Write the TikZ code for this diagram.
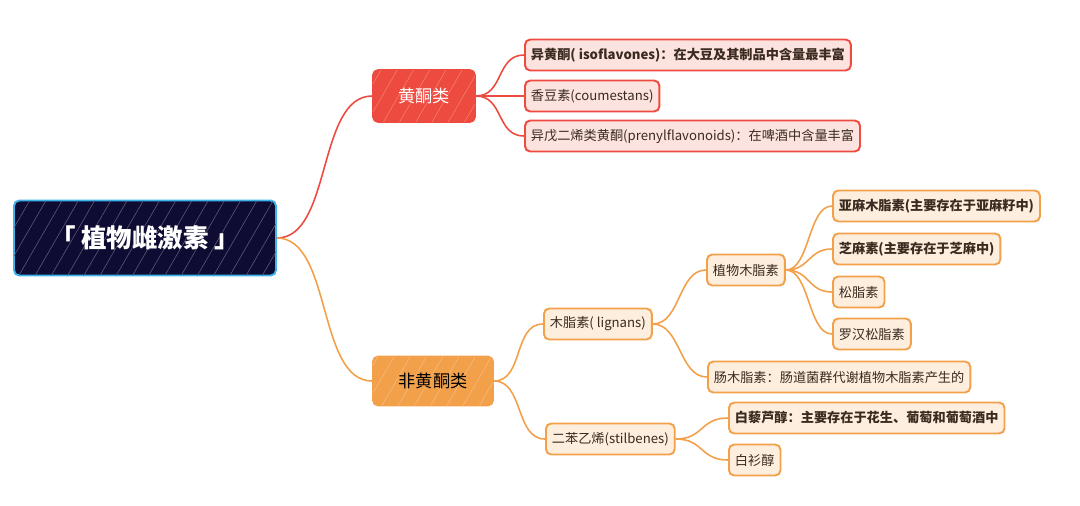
\documentclass[tikz,border=0pt]{standalone}
\usepackage{fontspec}
\setmainfont{Noto Sans CJK SC}
\usetikzlibrary{patterns.meta}
\definecolor{rootfill}{HTML}{0E0C33}
\definecolor{rootline}{HTML}{3CB3EA}
\definecolor{redmain}{HTML}{EE4B40}
\definecolor{redfill}{HTML}{FCE3DF}
\definecolor{orangemain}{HTML}{F3A04B}
\definecolor{orangefill}{HTML}{FDEEDD}
\definecolor{inktext}{HTML}{3A2A20}
\tikzset{
  mapnode/.style = {align=center, rounded corners=3pt, line width=1.1pt,
    inner xsep=0.12cm, inner ysep=0pt, minimum height=0.62cm, anchor=west,
    font=\fontsize{7.5}{9}\selectfont, text=inktext},
  hatched/.style = {postaction={pattern={Lines[angle=60, distance=8pt,
    line width=0.3pt]}, pattern color=#1}},
  root_node/.style = {mapnode, anchor=center, draw=rootline, fill=rootfill,
    text=white, minimum width=5.24cm, minimum height=1.5cm,
    font=\fontsize{14.5}{17}\selectfont\bfseries, hatched=white!35!rootfill},% racine
  red_main/.style = {mapnode, anchor=center, draw=redmain, fill=redmain,
    text=white, minimum width=2.04cm, minimum height=1.04cm,
    font=\fontsize{9.8}{12}\selectfont, hatched=white!30!redmain},% branche rouge
  orange_main/.style = {mapnode, anchor=center, draw=orangemain, fill=orangemain,
    text=black, minimum width=2.4cm, minimum height=0.98cm,
    font=\fontsize{9.8}{12}\selectfont, hatched=white!30!orangemain},% branche orange
  red_leaf/.style = {mapnode, draw=redmain, fill=redfill},% feuille rouge
  orange_leaf/.style = {mapnode, draw=orangemain, fill=orangefill},% feuille orange
  red_link/.style = {draw=redmain, line width=0.9pt},
  orange_link/.style = {draw=orangemain, line width=0.9pt}
}
\begin{document}
\begin{tikzpicture}[x=0.02cm, y=-0.02cm]
  \useasboundingbox (0,0) rectangle (1080,505);
  \node [root_node] (root) at (145,238) {「 植物雌激素 」};
  \node [red_main] (flav) at (424,96) {黄酮类};
  \node [orange_main] (nonflav) at (433,381) {非黄酮类};

  \node [red_leaf, font=\fontsize{7.5}{9}\selectfont\bfseries] (iso) at (524,55)
    {异黄酮( isoflavones)：在大豆及其制品中含量最丰富};
  \node [red_leaf] (coum) at (524,96) {香豆素(coumestans)};
  \node [red_leaf] (pren) at (524,136)
    {异戊二烯类黄酮(prenylflavonoids)：在啤酒中含量丰富};

  \node [orange_leaf] (lign) at (543,324) {木脂素( lignans)};
  \node [orange_leaf] (stil) at (545,439) {二苯乙烯(stilbenes)};
  \node [orange_leaf] (plant) at (706,270) {植物木脂素};
  \node [orange_leaf] (entero) at (707,377) {肠木脂素：肠道菌群代谢植物木脂素产生的};
  \node [orange_leaf, font=\fontsize{7.5}{9}\selectfont\bfseries] (flax) at (832,206)
    {亚麻木脂素(主要存在于亚麻籽中)};
  \node [orange_leaf, font=\fontsize{7.5}{9}\selectfont\bfseries] (sesa) at (832,249)
    {芝麻素(主要存在于芝麻中)};
  \node [orange_leaf] (pino) at (832,292) {松脂素};
  \node [orange_leaf] (matai) at (832,334) {罗汉松脂素};
  \node [orange_leaf, font=\fontsize{7.5}{9}\selectfont\bfseries] (resv) at (728,418)
    {白藜芦醇：主要存在于花生、葡萄和葡萄酒中};
  \node [orange_leaf] (pice) at (728,460) {白衫醇};

  % connectors
  \draw [red_link] (root.east) .. controls +(55,0) and +(-55,0) .. (flav.west);
  \draw [orange_link] (root.east) .. controls +(55,0) and +(-55,0) .. (nonflav.west);
  \foreach \leaf in {iso, coum, pren}
    \draw [red_link] (flav.east) .. controls +(28,0) and +(-28,0) .. (\leaf.west);
  \foreach \leaf in {lign, stil}
    \draw [orange_link] (nonflav.east) .. controls +(30,0) and +(-30,0) .. (\leaf.west);
  \foreach \leaf in {plant, entero}
    \draw [orange_link] (lign.east) .. controls +(28,0) and +(-28,0) .. (\leaf.west);
  \foreach \leaf in {flax, sesa, pino, matai}
    \draw [orange_link] (plant.east) .. controls +(24,0) and +(-24,0) .. (\leaf.west);
  \foreach \leaf in {resv, pice}
    \draw [orange_link] (stil.east) .. controls +(28,0) and +(-28,0) .. (\leaf.west);
\end{tikzpicture}
\end{document}
